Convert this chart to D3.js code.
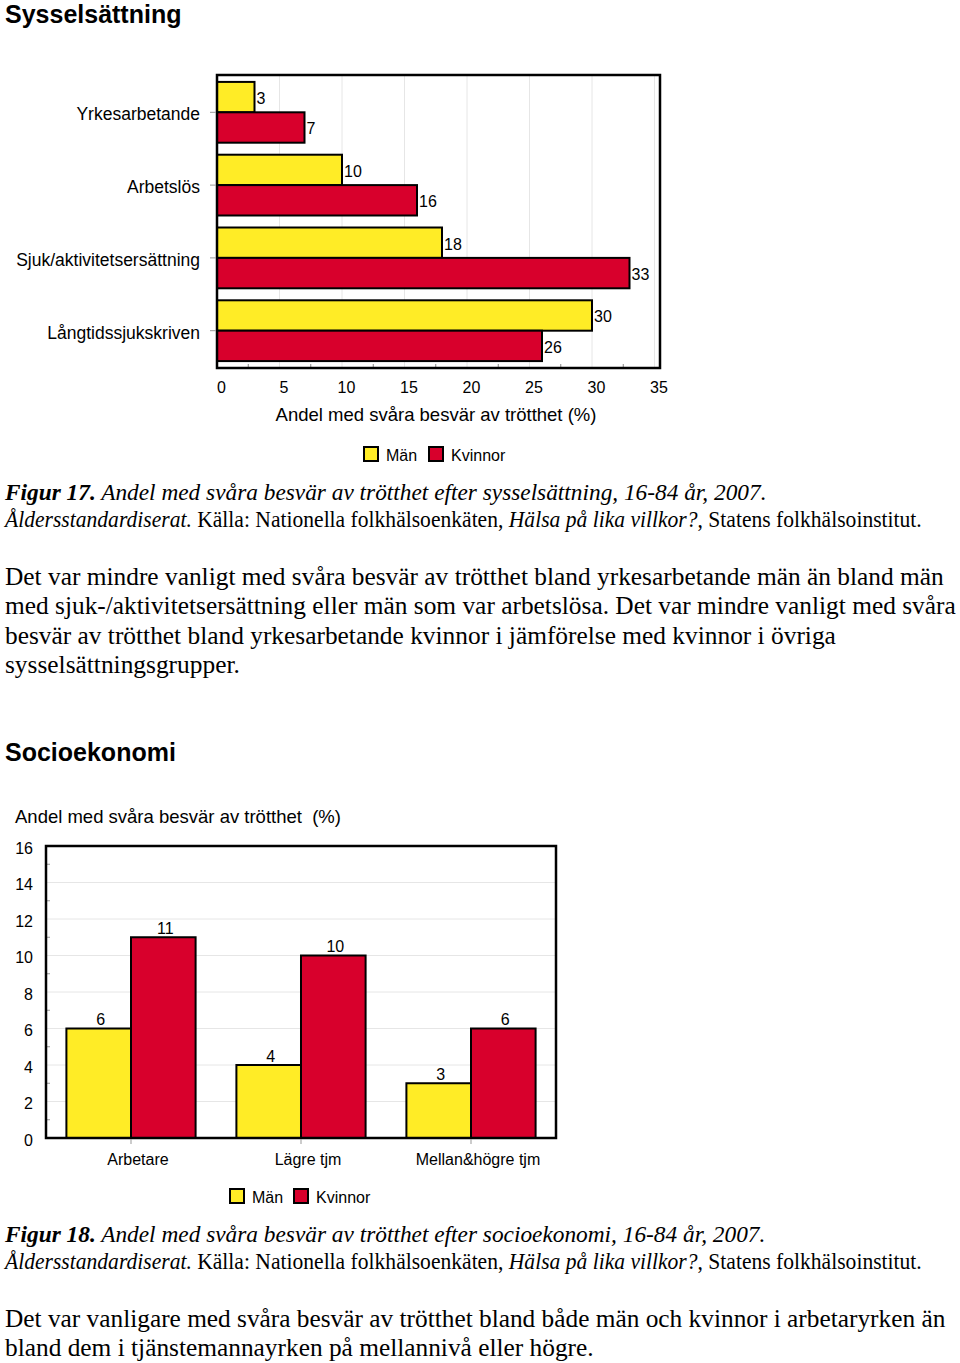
<!DOCTYPE html>
<html>
<head>
<meta charset="utf-8">
<script src="https://cdn.jsdelivr.net/npm/d3@7"></script>
<style>
  body { margin: 0; background: #fff; }
  svg { display: block; }
  .sans { font-family: "Liberation Sans", Arial, sans-serif; }
  .serif { font-family: "Liberation Serif", "Times New Roman", serif; }
</style>
</head>
<body>
<svg id="page" width="960" height="1363"></svg>
<script>
// ---------- DATA ----------
const seriesNames = ["Män", "Kvinnor"];
const seriesColors = ["#ffec26", "#d8002c"];

const categories1 = ["Yrkesarbetande", "Arbetslös", "Sjuk/aktivitetsersättning", "Långtidssjukskriven"];
const men1 = [3, 10, 18, 30];
const women1 = [7, 16, 33, 26];
const xTicks1 = [0, 5, 10, 15, 20, 25, 30, 35];

const categories2 = ["Arbetare", "Lägre tjm", "Mellan&högre tjm"];
const men2 = [6, 4, 3];
const women2 = [11, 10, 6];
const yTicks2 = [0, 2, 4, 6, 8, 10, 12, 14, 16];

// ---------- PAGE ----------
const svg = d3.select("#page");
svg.append("rect").attr("width", 960).attr("height", 1363).attr("fill", "#fff");

function fitWidth(textSel, x, target) {
  const w = textSel.node().getComputedTextLength();
  if (w > 0) textSel.attr("transform", `translate(${x},0) scale(${target / w},1) translate(${-x},0)`);
}

// Headings
svg.append("text").attr("class", "sans").attr("x", 5).attr("y", 23)
  .attr("font-size", 25).attr("font-weight", "bold").text("Sysselsättning");
svg.append("text").attr("class", "sans").attr("x", 5).attr("y", 761)
  .attr("font-size", 25).attr("font-weight", "bold").text("Socioekonomi");

// ---------- CHART 1 (horizontal bars) ----------
const c1 = { left: 217, right: 660, top: 75, bottom: 368 };
const x1 = d3.scaleLinear().domain([0, 35.44]).range([c1.left, c1.right]);
const y1 = d3.scaleBand().domain(categories1).range([c1.top, c1.bottom])
  .paddingInner(0.165).paddingOuter(0.095);
const y1s = d3.scaleBand().domain(seriesNames).range([0, y1.bandwidth()]);

const g1 = svg.append("g").attr("class", "sans");
// gridlines
g1.append("g").selectAll("line").data(xTicks1.filter(d => d > 0)).join("line")
  .attr("x1", d => x1(d)).attr("x2", d => x1(d))
  .attr("y1", c1.top).attr("y2", c1.bottom)
  .attr("stroke", "#e6e6e6").attr("stroke-width", 1);
// minor ticks at bottom
g1.append("g").selectAll("line").data(xTicks1.slice(0, -1).map(d => d + 2.5)).join("line")
  .attr("x1", d => x1(d)).attr("x2", d => x1(d))
  .attr("y1", c1.bottom - 4).attr("y2", c1.bottom)
  .attr("stroke", "#888").attr("stroke-width", 1);

const rows1 = categories1.map((c, i) => ({ cat: c, vals: [men1[i], women1[i]] }));
const grp1 = g1.append("g").selectAll("g").data(rows1).join("g")
  .attr("transform", d => `translate(0,${y1(d.cat)})`);
grp1.selectAll("rect").data(d => d.vals.map((v, j) => ({ v, s: seriesNames[j], j }))).join("rect")
  .attr("x", x1(0)).attr("y", d => y1s(d.s))
  .attr("width", d => x1(d.v) - x1(0)).attr("height", y1s.bandwidth())
  .attr("fill", d => seriesColors[d.j]).attr("stroke", "#000").attr("stroke-width", 2);
grp1.selectAll("text").data(d => d.vals.map((v, j) => ({ v, s: seriesNames[j], j }))).join("text")
  .attr("x", d => x1(d.v) + 2).attr("y", d => y1s(d.s) + y1s.bandwidth() / 2 + 7)
  .attr("font-size", 16).attr("fill", "#000").text(d => d.v);

// frame
g1.append("rect").attr("x", c1.left).attr("y", c1.top)
  .attr("width", c1.right - c1.left).attr("height", c1.bottom - c1.top)
  .attr("fill", "none").attr("stroke", "#000").attr("stroke-width", 2.5);

// y axis category labels
const yAxis1 = d3.axisLeft(y1).tickSize(6).tickPadding(10);
const ya1 = g1.append("g").attr("transform", `translate(${c1.left - 1},0)`).call(yAxis1);
ya1.select(".domain").remove();
ya1.selectAll(".tick line").attr("stroke", "#999");
ya1.selectAll(".tick text").attr("font-size", 17.5).attr("fill", "#000")
  .attr("font-family", "Liberation Sans, Arial, sans-serif").attr("dy", "0.45em");

// x axis labels
const xAxis1 = d3.axisBottom(x1).tickValues(xTicks1).tickSize(0).tickPadding(14);
const xa1 = g1.append("g").attr("transform", `translate(4,${c1.bottom})`).call(xAxis1);
xa1.select(".domain").remove();
xa1.selectAll(".tick text").attr("font-size", 16).attr("fill", "#000")
  .attr("font-family", "Liberation Sans, Arial, sans-serif");
g1.append("text").attr("x", 436).attr("y", 421).attr("text-anchor", "middle")
  .attr("font-size", 18.5).text("Andel med svåra besvär av trötthet (%)");

// legend
function legend(g, x0, yc, gap2) {
  const lg = g.append("g");
  seriesNames.forEach((s, j) => {
    const xo = x0 + j * gap2;
    lg.append("rect").attr("x", xo).attr("y", yc - 8).attr("width", 14).attr("height", 14)
      .attr("fill", seriesColors[j]).attr("stroke", "#000").attr("stroke-width", 2);
    lg.append("text").attr("x", xo + 22).attr("y", yc + 6).attr("font-size", 16).text(s);
  });
}
legend(g1, 364, 455, 65);

// ---------- CAPTIONS & PARAGRAPHS ----------
function caption(y1, num, title, w1, w2) {
  const t1 = svg.append("text").attr("class", "serif").attr("x", 5).attr("y", y1)
    .attr("font-size", 23).attr("font-style", "italic");
  t1.append("tspan").attr("font-weight", "bold").text("Figur " + num + ".");
  t1.append("tspan").text(" " + title);
  fitWidth(t1, 5, w1);
  const t2 = svg.append("text").attr("class", "serif").attr("x", 5).attr("y", y1 + 27)
    .attr("font-size", 23);
  t2.append("tspan").attr("font-style", "italic").text("Åldersstandardiserat.");
  t2.append("tspan").text(" Källa: Nationella folkhälsoenkäten, ");
  t2.append("tspan").attr("font-style", "italic").text("Hälsa på lika villkor?");
  t2.append("tspan").text(", Statens folkhälsoinstitut.");
  fitWidth(t2, 5, w2);
}
caption(500, "17", "Andel med svåra besvär av trötthet efter sysselsättning, 16-84 år, 2007.", 762, 917);
caption(1242, "18", "Andel med svåra besvär av trötthet efter socioekonomi, 16-84 år, 2007.", 761, 917);

function paragraph(lines, y0, widths) {
  lines.forEach((l, i) => {
    const t = svg.append("text").attr("class", "serif").attr("x", 5).attr("y", y0 + i * 29.5)
      .attr("font-size", 25).text(l);
    fitWidth(t, 5, widths[i]);
  });
}
paragraph([
  "Det var mindre vanligt med svåra besvär av trötthet bland yrkesarbetande män än bland män",
  "med sjuk-/aktivitetsersättning eller män som var arbetslösa. Det var mindre vanligt med svåra",
  "besvär av trötthet bland yrkesarbetande kvinnor i jämförelse med kvinnor i övriga",
  "sysselsättningsgrupper."
], 585, [939, 951, 831, 235]);
paragraph([
  "Det var vanligare med svåra besvär av trötthet bland både män och kvinnor i arbetaryrken än",
  "bland dem i tjänstemannayrken på mellannivå eller högre."
], 1327, [941, 589]);

// ---------- CHART 2 (vertical bars) ----------
const c2 = { left: 46, right: 556, top: 846, bottom: 1138 };
const x2 = d3.scaleBand().domain(categories2).range([c2.left, c2.right])
  .paddingInner(0.24).paddingOuter(0.12);
const x2s = d3.scaleBand().domain(seriesNames).range([0, x2.bandwidth()]);
const y2 = d3.scaleLinear().domain([0, 16]).range([c2.bottom, c2.top]);

const g2 = svg.append("g").attr("class", "sans");
g2.append("text").attr("x", 15).attr("y", 823).attr("font-size", 18.5)
  .text("Andel med svåra besvär av trötthet\u00a0 (%)");

g2.append("g").selectAll("line").data(yTicks2.filter(d => d > 0 && d < 16)).join("line")
  .attr("x1", c2.left).attr("x2", c2.right).attr("y1", d => y2(d)).attr("y2", d => y2(d))
  .attr("stroke", "#e6e6e6");
// minor ticks on y
g2.append("g").selectAll("line").data(yTicks2.slice(0, -1).map(d => d + 1)).join("line")
  .attr("x1", c2.left).attr("x2", c2.left + 4).attr("y1", d => y2(d)).attr("y2", d => y2(d))
  .attr("stroke", "#999");

const rows2 = categories2.map((c, i) => ({ cat: c, vals: [men2[i], women2[i]] }));
const grp2 = g2.append("g").selectAll("g").data(rows2).join("g")
  .attr("transform", d => `translate(${x2(d.cat)},0)`);
grp2.selectAll("rect").data(d => d.vals.map((v, j) => ({ v, s: seriesNames[j], j }))).join("rect")
  .attr("x", d => x2s(d.s)).attr("y", d => y2(d.v))
  .attr("width", x2s.bandwidth()).attr("height", d => y2(0) - y2(d.v))
  .attr("fill", d => seriesColors[d.j]).attr("stroke", "#000").attr("stroke-width", 2);
grp2.selectAll("text").data(d => d.vals.map((v, j) => ({ v, s: seriesNames[j], j }))).join("text")
  .attr("x", d => x2s(d.s) + x2s.bandwidth() / 2 + 2).attr("y", d => y2(d.v) - 3.5)
  .attr("text-anchor", "middle").attr("font-size", 16).text(d => d.v);

g2.append("rect").attr("x", c2.left).attr("y", c2.top)
  .attr("width", c2.right - c2.left).attr("height", c2.bottom - c2.top)
  .attr("fill", "none").attr("stroke", "#000").attr("stroke-width", 2.5);

const ya2 = g2.append("g").attr("transform", `translate(${c2.left},0)`)
  .call(d3.axisLeft(y2).tickValues(yTicks2).tickSize(0).tickPadding(13));
ya2.select(".domain").remove();
ya2.selectAll(".tick text").attr("font-size", 16).attr("fill", "#000")
  .attr("font-family", "Liberation Sans, Arial, sans-serif").attr("dy", "0.45em");

const xa2 = g2.append("g").attr("transform", `translate(0,${c2.bottom + 1})`)
  .call(d3.axisBottom(x2).tickSize(5).tickPadding(10));
xa2.select(".domain").remove();
xa2.selectAll(".tick line").attr("stroke", "#999");
xa2.selectAll(".tick text").attr("font-size", 16).attr("fill", "#000")
  .attr("font-family", "Liberation Sans, Arial, sans-serif").attr("dx", 7);

legend(g2, 230, 1197, 64);
</script>
</body>
</html>
